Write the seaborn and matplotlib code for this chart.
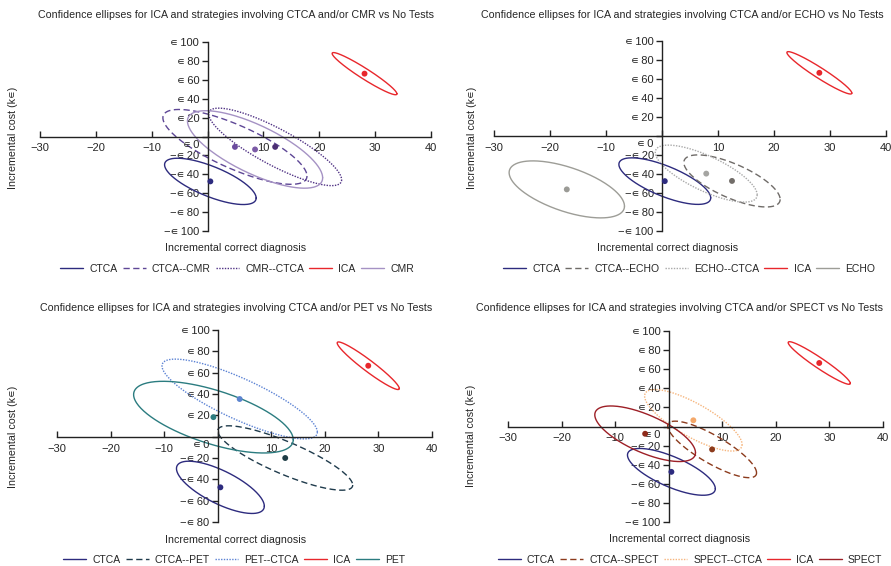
import numpy as np
import matplotlib
matplotlib.use('Agg')
import matplotlib.pyplot as plt
import seaborn as sns

sns.set_style('white')
plt.rcParams['font.family'] = ['Liberation Sans', 'DejaVu Sans']
plt.rcParams['axes.unicode_minus'] = True

# mean incremental correct diagnosis (x), mean incremental cost (y, k€),
# half extent of the ellipse along x / y and its tilt (deg)
cmr_names = ['CTCA', 'CTCA--CMR', 'CMR--CTCA', 'ICA', 'CMR']
cmr_x = [0.5, 4.9, 12.1, 28.1, 8.5]
cmr_y = [-47.5, -11.0, -11.0, 66.5, -13.7]
cmr_rx = [8.2, 12.9, 11.9, 5.8, 12.1]
cmr_ry = [24.5, 39.6, 41.0, 22.3, 41.0]
cmr_tilt = [44, 39, 32, 17, 43]

echo_names = ['CTCA', 'CTCA--ECHO', 'ECHO--CTCA', 'ICA', 'ECHO']
echo_x = [0.5, 12.5, 7.9, 28.1, -17.0]
echo_y = [-47.5, -47.3, -39.6, 66.5, -56.2]
echo_rx = [8.2, 8.6, 9.1, 5.8, 10.3]
echo_ry = [24.5, 27.4, 30.0, 22.3, 30.0]
echo_tilt = [44, 45, 42, 17, 54]

pet_names = ['CTCA', 'CTCA--PET', 'PET--CTCA', 'ICA', 'PET']
pet_x = [0.5, 12.6, 4.1, 28.1, -0.8]
pet_y = [-47.5, -20.0, 35.3, 66.5, 18.3]
pet_rx = [8.2, 12.6, 14.5, 5.8, 14.9]
pet_ry = [24.5, 30.2, 37.4, 22.3, 33.6]
pet_tilt = [44, 33, 34, 17, 51]

spect_names = ['CTCA', 'CTCA--SPECT', 'SPECT--CTCA', 'ICA', 'SPECT']
spect_x = [0.5, 8.1, 4.6, 28.1, -4.4]
spect_y = [-47.5, -24.0, 6.5, 66.5, -7.6]
spect_rx = [8.2, 8.3, 9.1, 5.8, 9.4]
spect_ry = [24.5, 29.6, 32.2, 22.3, 29.1]
spect_tilt = [44, 34, 38, 17, 47]

x_ticks = [-30, -20, -10, 0, 10, 20, 30, 40]

# styles
navy = '#2d2b7e'
red = '#e8272c'
solid = '-'
dash = (0, (4.5, 2.5))
dot = (0, (1, 1))
line_styles = [solid, dash, dot, solid, solid]

cmr_colors = [navy, '#5e4796', '#4f3184', red, '#a592c4']
echo_colors = [navy, '#6f6b68', '#a9a9a9', red, '#9d9d97']
pet_colors = [navy, '#1f3b4c', '#5b82d4', red, '#2b7c80']
spect_colors = [navy, '#8c3b1d', '#f6b57d', red, '#9d1f26']

cmr_dots = [navy, '#6b4b9e', '#4b2e74', red, '#7b5aa6']
echo_dots = [navy, '#726d69', '#a5a5a2', red, '#9b9b96']
pet_dots = [navy, '#1d3c45', '#5c84cf', red, '#2b7c80']
spect_dots = [navy, '#8c3b1d', '#f4a86a', red, '#8e2a1a']

EU = '\u220a'  # the euro sign shows up as a small "element of" in the original
W, H = 891, 566
fig = plt.figure(figsize=(W / 100, H / 100), dpi=100)
text_col = '#262626'


def fx(px):
    return px / W


def fy(py):
    return 1 - py / H


def ellipse(cx, cy, rx, ry, tilt):
    t = np.linspace(0, 2 * np.pi, 240)
    return cx + rx * np.cos(t), cy - ry * np.cos(t - np.radians(tilt))


def euro(v):
    if v == 0:
        return ''
    if v < 0:
        return '\u2212' + EU + '\u2009%d' % abs(v)
    return EU + '\u2009%d' % v


def draw_panel(box, names, xs, ys, rxs, rys, tilts, colors, dots, yticks,
               title, title_xy, ylab_xy, xlab_xy, leg_xy):
    l, t, r, b = box
    ax = fig.add_axes([fx(l), fy(b), fx(r - l), (b - t) / H])
    for i in range(len(names)):
        ex, ey = ellipse(xs[i], ys[i], rxs[i], rys[i], tilts[i])
        sns.lineplot(x=ex, y=ey, sort=False, estimator=None, color=colors[i],
                     lw=1.0, linestyle=line_styles[i], ax=ax, label=names[i])
    sns.scatterplot(x=xs, y=ys, hue=names, palette=dict(zip(names, dots)),
                    s=18, linewidth=0, legend=False, ax=ax, zorder=5)

    ax.set_xlim(-30, 40)
    ax.set_ylim(yticks[0], yticks[-1])
    ax.spines['left'].set_position(('data', 0))
    ax.spines['bottom'].set_position(('data', 0))
    ax.spines['top'].set_visible(False)
    ax.spines['right'].set_visible(False)
    for s in ['left', 'bottom']:
        ax.spines[s].set_color('#222222')
        ax.spines[s].set_linewidth(1.0)
    ax.set_xticks(x_ticks)
    ax.set_xticklabels(['' if v == 0 else ('\u2212%d' % -v if v < 0 else str(v)) for v in x_ticks])
    ax.set_yticks(yticks)
    ax.set_yticklabels([euro(v) for v in yticks])
    ax.tick_params(axis='x', bottom=True, direction='in', length=4, width=1,
                   pad=5, labelsize=8, colors='#222222', labelcolor=text_col)
    ax.tick_params(axis='y', left=True, direction='out', length=4, width=1,
                   pad=2, labelsize=8, colors='#222222', labelcolor=text_col)
    ax.annotate(EU + '\u20090', xy=(0, 0), xytext=(-6, -6), textcoords='offset points',
                ha='right', va='center', fontsize=8, color=text_col)
    ax.set_xlabel('')
    ax.set_ylabel('')

    fig.text(fx(title_xy[0]), fy(title_xy[1]), title, ha='center', va='center',
             fontsize=7.7, color=text_col)
    fig.text(fx(ylab_xy[0]), fy(ylab_xy[1]), 'Incremental cost (k' + EU + ')', rotation=90,
             ha='center', va='center', fontsize=7.7, color=text_col)
    fig.text(fx(xlab_xy[0]), fy(xlab_xy[1]), 'Incremental correct diagnosis',
             ha='center', va='center', fontsize=7.7, color=text_col)

    handles, labels = ax.get_legend_handles_labels()
    ax.legend(handles, labels, loc='center', bbox_to_anchor=(fx(leg_xy[0]), fy(leg_xy[1])),
              bbox_transform=fig.transFigure, ncol=5, frameon=False, fontsize=7.5,
              handlelength=2.2, handletextpad=0.6, columnspacing=0.5,
              labelcolor=text_col)
    return ax


y_full = [-100, -80, -60, -40, -20, 0, 20, 40, 60, 80, 100]
y_pet = [-80, -60, -40, -20, 0, 20, 40, 60, 80, 100]

draw_panel((40, 42, 431, 231), cmr_names, cmr_x, cmr_y, cmr_rx, cmr_ry, cmr_tilt,
           cmr_colors, cmr_dots, y_full,
           'Confidence ellipses for ICA and strategies involving CTCA and/or CMR vs No Tests',
           (236, 15), (13, 138), (236, 248), (237, 269))
draw_panel((494, 41, 886, 231), echo_names, echo_x, echo_y, echo_rx, echo_ry, echo_tilt,
           echo_colors, echo_dots, y_full,
           'Confidence ellipses for ICA and strategies involving CTCA and/or ECHO vs No Tests',
           (682, 15), (472, 138), (668, 248), (689, 269))
draw_panel((57, 330, 432, 522), pet_names, pet_x, pet_y, pet_rx, pet_ry, pet_tilt,
           pet_colors, pet_dots, y_pet,
           'Confidence ellipses for ICA and strategies involving CTCA and/or PET vs No Tests',
           (236, 308), (13, 437), (236, 540), (234, 560))
draw_panel((508, 331, 883, 522), spect_names, spect_x, spect_y, spect_rx, spect_ry, spect_tilt,
           spect_colors, spect_dots, y_full,
           'Confidence ellipses for ICA and strategies involving CTCA and/or SPECT vs No Tests',
           (680, 308), (471, 436), (680, 539), (690, 560))

fig.savefig('out.png', dpi=100)
